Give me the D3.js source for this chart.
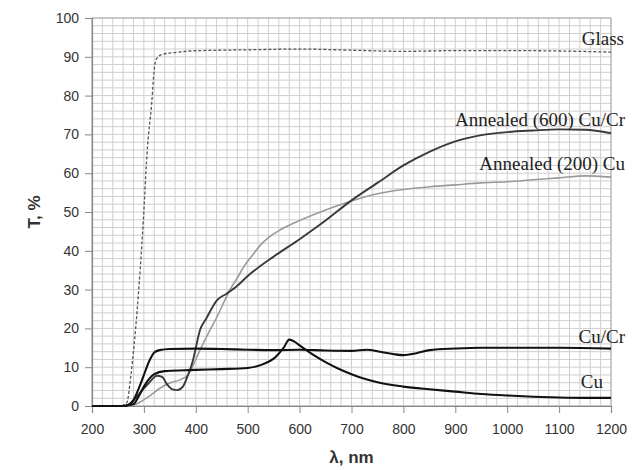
<!DOCTYPE html>
<html>
<head>
<meta charset="utf-8">
<script src="https://cdn.jsdelivr.net/npm/d3@7"></script>
<style>
  body { margin: 0; background: #fff; }
  svg { display: block; }
</style>
</head>
<body>
<div id="chart"></div>
<script>
"use strict";

// wavelength (nm) / transmittance (%) pairs
let glassLambda = [200, 250, 260, 267, 275, 287, 299, 306, 315, 321, 326, 335, 360, 390, 450, 500, 600, 700, 800, 900, 1000, 1100, 1200];
let glassT      = [0, 0, 0.2, 0.8, 8, 24.7, 48, 65, 78, 88, 89.8, 90.6, 91.1, 91.5, 91.7, 91.8, 92, 91.7, 91.4, 91.6, 91.6, 91.5, 91.2];

let a600Lambda = [200, 260, 270, 290, 310, 325, 335, 345, 355, 364, 375, 385, 395, 400, 408, 420, 441, 460, 480, 500, 550, 600, 650, 700, 750, 800, 850, 900, 950, 1000, 1050, 1100, 1150, 1200];
let a600T      = [0, 0, 0.3, 3, 6, 7.8, 7.5, 5.5, 4.3, 4.1, 5, 8, 12, 15, 19.5, 22.5, 27.3, 29, 31, 33.5, 38.5, 43, 47.8, 53, 57.5, 62, 65.5, 68.2, 69.8, 70.6, 71, 71.3, 71.2, 70.3];

let a200Lambda = [200, 260, 270, 290, 310, 330, 350, 370, 385, 395, 408, 425, 441, 455, 466, 480, 491, 510, 524, 540, 560, 580, 600, 650, 697, 750, 800, 851, 900, 950, 1000, 1050, 1100, 1150, 1200];
let a200T      = [0, 0, 0.1, 0.8, 2.5, 4.5, 5.9, 6.8, 8, 10.5, 14.4, 19, 23, 27, 30, 33, 35.6, 39, 41.4, 43.4, 45.2, 46.6, 47.8, 50.5, 52.7, 54.7, 55.8, 56.5, 57, 57.5, 57.8, 58.3, 58.8, 59.3, 59];

let cucrLambda = [200, 260, 270, 280, 290, 300, 310, 320, 330, 350, 400, 450, 500, 550, 600, 650, 700, 730, 755, 780, 800, 825, 851, 900, 948, 1000, 1100, 1200];
let cucrT      = [0, 0, 0.3, 1.5, 4.5, 8, 11.5, 13.8, 14.4, 14.7, 14.8, 14.7, 14.5, 14.4, 14.5, 14.3, 14.2, 14.5, 14, 13.4, 13.1, 13.6, 14.4, 14.8, 15, 15, 15, 14.8];

let cuLambda = [200, 260, 270, 280, 290, 300, 310, 320, 340, 380, 400, 450, 500, 530, 550, 570, 580, 590, 600, 625, 650, 675, 700, 725, 750, 800, 850, 900, 950, 1000, 1050, 1100, 1150, 1200];
let cuT      = [0, 0, 0.2, 0.5, 2.5, 5, 7, 8.2, 9, 9.2, 9.3, 9.5, 9.8, 10.8, 12.2, 15.2, 17.1, 16.6, 15.6, 13.3, 11.3, 9.6, 8.2, 7, 6.1, 5, 4.3, 3.7, 3.1, 2.7, 2.4, 2.2, 2.1, 2.1];

let xTicks = [200, 300, 400, 500, 600, 700, 800, 900, 1000, 1100, 1200];
let yTicks = [0, 10, 20, 30, 40, 50, 60, 70, 80, 90, 100];

let curveLabels = [
  { text: "Glass", x: 624, y: 45 },
  { text: "Annealed (600) Cu/Cr", x: 625, y: 126 },
  { text: "Annealed (200) Cu", x: 625, y: 170 },
  { text: "Cu/Cr", x: 625, y: 343 },
  { text: "Cu", x: 603, y: 388 }
];

function zip(xs, ys) {
  return xs.map((x, i) => ({ x: x, y: ys[i] }));
}

let seriesList = [
  { name: "Glass", points: zip(glassLambda, glassT), color: "#555", width: 1.3, dash: "3,2" },
  { name: "Annealed200", points: zip(a200Lambda, a200T), color: "#9a9a9a", width: 1.6, dash: null },
  { name: "Annealed600", points: zip(a600Lambda, a600T), color: "#3a3a3a", width: 1.9, dash: null },
  { name: "CuCr", points: zip(cucrLambda, cucrT), color: "#111", width: 2.1, dash: null },
  { name: "Cu", points: zip(cuLambda, cuT), color: "#111", width: 2.1, dash: null }
];

let width = 639, height = 470;
let margin = { top: 18, right: 28, bottom: 64, left: 92 };

let svg = d3.select("#chart").append("svg")
  .attr("width", width)
  .attr("height", height);

let x = d3.scaleLinear().domain([200, 1200]).range([margin.left, width - margin.right]);
let y = d3.scaleLinear().domain([0, 100]).range([height - margin.bottom, margin.top]);

// minor grid: every 20 nm, every 2 %
let grid = svg.append("g").attr("class", "grid");
grid.selectAll("line.v").data(d3.range(200, 1201, 20)).enter()
  .append("line")
  .attr("x1", d => x(d)).attr("x2", d => x(d))
  .attr("y1", y(0)).attr("y2", y(100))
  .style("stroke", "#cfcfcf").style("stroke-width", 1);
grid.selectAll("line.h").data(d3.range(0, 101, 2)).enter()
  .append("line")
  .attr("x1", x(200)).attr("x2", x(1200))
  .attr("y1", d => y(d)).attr("y2", d => y(d))
  .style("stroke", "#cfcfcf").style("stroke-width", 1);

// frame
svg.append("rect")
  .attr("x", x(200)).attr("y", y(100))
  .attr("width", x(1200) - x(200)).attr("height", y(0) - y(100))
  .style("fill", "none").style("stroke", "#aaa");

let xAxis = svg.append("g")
  .attr("transform", `translate(0,${y(0)})`)
  .call(d3.axisBottom(x).tickValues(xTicks).tickFormat(d3.format("d")).tickSize(7).tickPadding(11));
let yAxis = svg.append("g")
  .attr("transform", `translate(${x(200)},0)`)
  .call(d3.axisLeft(y).tickValues(yTicks).tickSize(7).tickPadding(6));

[xAxis, yAxis].forEach(a => {
  a.select(".domain").style("stroke", "#888").style("stroke-width", 1.2);
  a.selectAll(".tick line").style("stroke", "#888");
  a.selectAll(".tick text")
    .style("font-family", "'Liberation Sans', Arial, sans-serif")
    .style("font-size", "14px")
    .style("fill", "#333");
});

let line = d3.line()
  .x(d => x(d.x))
  .y(d => y(d.y))
  .curve(d3.curveMonotoneX);

svg.append("g").selectAll("path").data(seriesList).enter()
  .append("path")
  .attr("d", d => line(d.points))
  .style("fill", "none")
  .style("stroke", d => d.color)
  .style("stroke-width", d => d.width)
  .style("stroke-dasharray", d => d.dash)
  .style("stroke-linejoin", "round");

svg.append("g").selectAll("text").data(curveLabels).enter()
  .append("text")
  .attr("x", d => d.x)
  .attr("y", d => d.y)
  .attr("text-anchor", "end")
  .style("font-family", "'Liberation Serif', 'Times New Roman', serif")
  .style("font-size", "19px")
  .style("fill", "#222")
  .text(d => d.text);

// axis titles
svg.append("text")
  .attr("x", (x(200) + x(1200)) / 2)
  .attr("y", 463)
  .attr("text-anchor", "middle")
  .style("font-family", "'Liberation Sans', Arial, sans-serif")
  .style("font-size", "17px")
  .style("font-weight", "bold")
  .style("fill", "#333")
  .text("λ, nm");

svg.append("text")
  .attr("transform", `translate(40,${(y(0) + y(100)) / 2}) rotate(-90)`)
  .attr("text-anchor", "middle")
  .style("font-family", "'Liberation Sans', Arial, sans-serif")
  .style("font-size", "17px")
  .style("font-weight", "bold")
  .style("fill", "#333")
  .text("T, %");
</script>
</body>
</html>
